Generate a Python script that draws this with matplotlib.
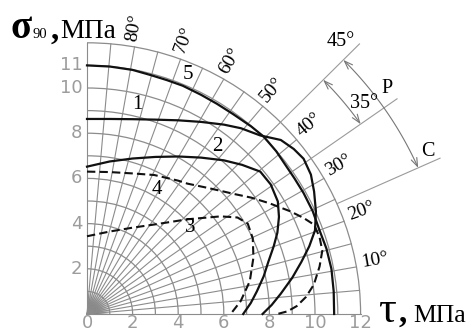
import numpy as np
import matplotlib
matplotlib.use('Agg')
import matplotlib.pyplot as plt
from matplotlib.patches import Arc, Wedge, FancyArrowPatch
from matplotlib.path import Path

# curves: tau (MPa) vs sigma90 (MPa)
tau_1 = [0, 1.0, 2.0, 3.0, 4.0, 5.0, 6.0, 6.75, 7.6, 8.5, 9.07, 9.5, 9.82, 9.96, 10.04, 10.0, 9.75, 9.4, 9.0, 8.5, 8.1, 7.7]
sig_1 = [8.63, 8.63, 8.62, 8.6, 8.57, 8.5, 8.38, 8.22, 7.9, 7.7, 7.3, 6.87, 6.17, 5.42, 4.54, 3.7, 3.0, 2.3, 1.6, 0.9, 0.4, 0]

tau_2 = [0, 1.0, 2.0, 3.0, 4.0, 5.0, 6.0, 6.8, 7.6, 8.06, 8.37, 8.42, 8.35, 8.19, 7.95, 7.75, 7.45, 7.18, 6.85]
sig_2 = [6.52, 6.75, 6.88, 6.95, 6.97, 6.92, 6.8, 6.6, 6.3, 5.73, 4.98, 4.3, 3.6, 3.0, 2.3, 1.67, 1.0, 0.48, 0]

tau_3 = [0, 1.0, 2.0, 2.95, 4.4, 5.86, 6.6, 7.05, 7.27, 7.3, 7.14, 6.74, 6.3]
sig_3 = [3.44, 3.65, 3.82, 3.96, 4.19, 4.32, 4.27, 4.0, 3.35, 2.5, 1.45, 0.57, 0]

tau_4 = [0, 1.0, 2.0, 2.95, 4.0, 4.4, 5.2, 5.86, 6.5, 7.2, 8.0, 8.9, 9.5, 9.96, 10.2, 10.32, 10.2, 9.95, 9.6, 9.2, 8.8, 8.35]
sig_4 = [6.3, 6.28, 6.22, 6.15, 5.9, 5.77, 5.6, 5.45, 5.3, 5.15, 4.9, 4.55, 4.25, 3.95, 3.4, 2.8, 2.1, 1.3, 0.75, 0.35, 0.12, 0]

tau_5 = [0, 1.0, 2.0, 2.8, 3.5, 4.2, 5.0, 5.7, 6.4, 7.2, 7.75, 8.3, 8.7, 9.1, 9.5, 9.9, 10.2, 10.5, 10.72, 10.82, 10.84]
sig_5 = [11.0, 10.95, 10.8, 10.57, 10.35, 10.1, 9.7, 9.3, 8.85, 8.3, 7.85, 7.2, 6.6, 6.0, 5.35, 4.55, 3.7, 2.9, 2.0, 1.0, 0]

curve_names = ['1', '2', '3', '4', '5']
name_tau = [2.19, 5.70, 4.52, 3.07, 4.43]
name_sig = [9.25, 7.39, 3.81, 5.49, 10.58]

tau_ticks = [0, 2, 4, 6, 8, 10, 12]
sig_ticks = [2, 4, 6, 8, 10, 11]
angle_ticks = [10, 20, 30, 40, 50, 60, 70, 80]

R_MAX = 12
GRID = '#8c8c8c'
SERIF = ['Liberation Serif', 'DejaVu Serif']
NARROW = ['Liberation Sans Narrow', 'DejaVu Sans']

fig = plt.figure(figsize=(4.67, 3.31), dpi=100)
ax = fig.add_axes([0, 0, 1, 1])
ax.axis('off')

# dark spot at the pole
g = np.linspace(0, 1.1, 120)
gx, gy = np.meshgrid(g, g)
gr = np.hypot(gx, gy)
img = np.zeros((120, 120, 4))
img[..., 3] = np.clip(1 - gr / 1.0, 0, 1) ** 0.9 * 0.9
im = ax.imshow(img, extent=[0, 1.1, 0, 1.1], origin='lower', zorder=1)
im.set_clip_path(Wedge((0, 0), 1.0, 0, 90, transform=ax.transData))

# polar grid: arcs every 1 MPa, rays every 5 deg
for r in range(1, R_MAX + 1):
    ax.add_patch(Arc((0, 0), 2 * r, 2 * r, theta1=0, theta2=90,
                     color=GRID, lw=0.9, zorder=2))
for a in range(0, 91, 5):
    t = np.radians(a)
    ax.plot([0, R_MAX * np.cos(t)], [0, R_MAX * np.sin(t)],
            color=GRID, lw=0.8, zorder=2)

# long rays for the P and C zones
for a, rr in [(45, 16.9), (35, 16.6), (24, 16.95)]:
    t = np.radians(a)
    ax.plot([R_MAX * np.cos(t), rr * np.cos(t)], [R_MAX * np.sin(t), rr * np.sin(t)],
            color='#9a9a9a', lw=0.8, zorder=2)

def arc_arrow(r, a1, a2):
    t = np.radians(np.linspace(a1, a2, 40))
    p = Path(np.column_stack([r * np.cos(t), r * np.sin(t)]))
    ax.add_patch(FancyArrowPatch(path=p, arrowstyle='<->,head_length=0.5,head_width=0.18',
                                 mutation_scale=12, color='#777777', lw=0.8,
                                 shrinkA=0, shrinkB=0, zorder=3))

arc_arrow(14.65, 45, 35)
arc_arrow(15.9, 45, 24)

ax.text(11.14, 12.04, '45°', fontsize=14.5, family=SERIF, ha='center', va='center')
ax.text(12.15, 9.31, '35°', fontsize=14.5, family=SERIF, ha='center', va='center')
ax.text(13.16, 9.96, 'Р', fontsize=14.5, family=SERIF, ha='center', va='center')
ax.text(14.96, 7.21, 'С', fontsize=14.5, family=SERIF, ha='center', va='center')

for a in angle_ticks:
    t = np.radians(a + 0.7)
    ax.text(12.85 * np.cos(t), 12.85 * np.sin(t), f'{a}°', fontsize=14, family=SERIF,
            rotation=a, rotation_mode='anchor', ha='center', va='center')

# curves
ax.plot(tau_1, sig_1, color='#111111', lw=1.6, zorder=4)
ax.plot(tau_2, sig_2, color='#111111', lw=1.6, zorder=4)
ax.plot(tau_5, sig_5, color='#111111', lw=1.6, zorder=4)
ax.plot(tau_3, sig_3, color='#111111', lw=1.5, dashes=(4, 2), zorder=4)
ax.plot(tau_4, sig_4, color='#111111', lw=1.5, dashes=(4, 2), zorder=4)

for n, x, y in zip(curve_names, name_tau, name_sig):
    ax.text(x, y, n, fontsize=15, family=SERIF, ha='center', va='center', zorder=5)

# tick labels
for v in tau_ticks:
    ax.text(v, -0.4, str(v), fontsize=13, family=NARROW, color='#9c9c9c',
            ha='center', va='center')
for v in sig_ticks:
    ax.text(-0.2, v, str(v), fontsize=13, family=NARROW, color='#9c9c9c',
            ha='right', va='center')

# axis titles
ax.text(-3.35, 12.2, 'σ', fontsize=28, family=SERIF, fontweight='bold', ha='left', va='baseline')
ax.text(-2.4, 12.2, '90', fontsize=10.5, family=SERIF, ha='left', va='baseline')
ax.text(-1.62, 12.2, ',', fontsize=24, family=SERIF, fontweight='bold', ha='left', va='baseline')
ax.text(-1.19, 12.2, 'МПа', fontsize=19.5, family=SERIF, ha='left', va='baseline')

ax.text(12.78, -0.36, 'τ', fontsize=32, family=SERIF, ha='left', va='baseline')
ax.text(13.68, -0.36, ',', fontsize=24, family=SERIF, fontweight='bold', ha='left', va='baseline')
ax.text(14.3, -0.36, 'МПа', fontsize=18.5, family=SERIF, ha='left', va='baseline')

ax.set_aspect('auto')
ax.set_xlim(-87 / 22.8, (467 - 87) / 22.8)
ax.set_ylim(-(331 - 314) / 22.6, 314 / 22.6)

fig.savefig('out.png', dpi=100)
